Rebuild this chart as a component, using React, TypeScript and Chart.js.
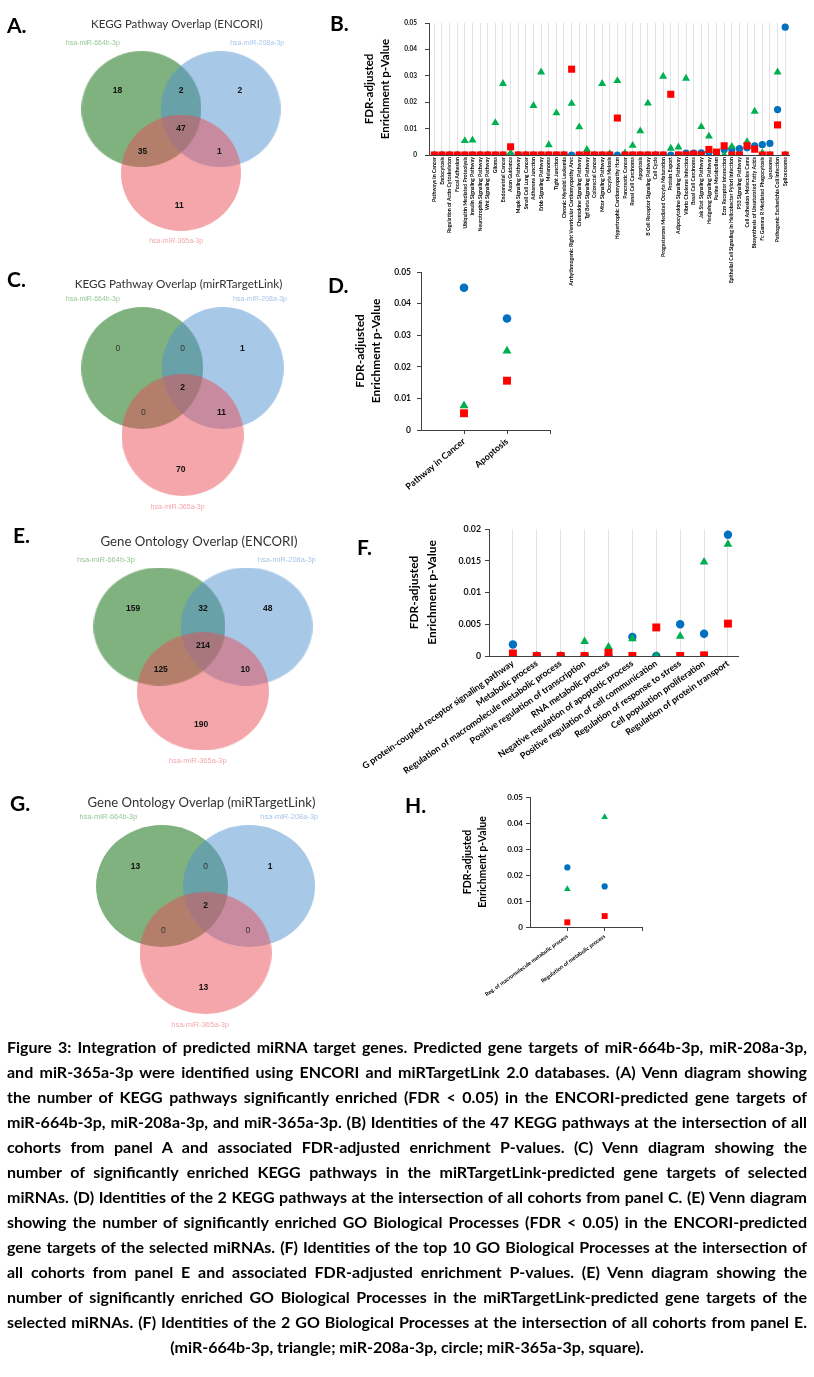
import React, { useEffect, useLayoutEffect, useRef, useState } from 'react';
import { Chart, registerables } from 'chart.js';

Chart.register(...registerables);

const SANS = 'Lato, "Open Sans", "DejaVu Sans", sans-serif';
const VENN_FONT = '"Liberation Sans", Arial, sans-serif';
const GREEN = '#00B050';
const BLUE = '#0070C0';
const RED = '#FF0000';

// ---------------- data ----------------
const mirnas = ['hsa-miR-664b-3p', 'hsa-miR-208a-3p', 'hsa-miR-365a-3p'];
// Venn regions: 664b only, 664b&208a, 208a only, all three, 664b&365a, 208a&365a, 365a only
const vennKeggEncori = [18, 2, 2, 47, 35, 1, 11];
const vennKeggMirTargetLink = [0, 0, 1, 2, 0, 11, 70];
const vennGoEncori = [159, 32, 48, 214, 125, 10, 190];
const vennGoMirTargetLink = [13, 0, 1, 2, 0, 0, 13];
const vennTitles = [
  'KEGG Pathway Overlap (ENCORI)',
  'KEGG Pathway Overlap (mirRTargetLink)',
  'Gene Ontology Overlap (ENCORI)',
  'Gene Ontology Overlap (miRTargetLink)',
];

const keggPathways = [
  'Pathways in Cancer', 'Endocytosis', 'Regulation of Actin Cytoskeleton', 'Focal Adhesion',
  'Ubiquitin Mediated Proteolysis', 'Insulin Signaling Pathway', 'Neurotrophin Signaling Pathway',
  'Wnt Signaling Pathway', 'Glioma', 'Endometrial Cancer', 'Axon Guidance', 'Mapk Signaling Pathway',
  'Small Cell Lung Cancer', 'Adherens Junction', 'Erbb Signaling Pathway', 'Melanoma', 'Tight Junction',
  'Chronic Myeloid Leukemia', 'Arrhythmogenic Right Ventricular Cardiomyopathy Arvc',
  'Chemokine Signaling Pathway', 'Tgf Beta Signaling Pathway', 'Colorectal Cancer', 'Mtor Signaling Pathway',
  'Oocyte Meiosis', 'Hypertrophic Cardiomyopathy Hcm', 'Pancreatic Cancer', 'Renal Cell Carcinoma',
  'Apoptosis', 'B Cell Receptor Signaling Pathway', 'Cell Cycle', 'Progesterone Mediated Oocyte Maturation',
  'Protein Export', 'Adipocytokine Signaling Pathway', 'Vibrio Cholerae Infection', 'Basal Cell Carcinoma',
  'Jak Stat Signaling Pathway', 'Hedgehog Signaling Pathway', 'Purine Metabolism', 'Ecm Receptor Interaction',
  'Epithelial Cell Signaling In Helicobacter Pylori Infection', 'P53 Signaling Pathway',
  'Cell Adhesion Molecules Cams', 'Biosynthesis of Unsaturated Fatty Acids', 'Fc Gamma R Mediated Phagocytosis',
  'Lysosome', 'Pathogenic Escherichia Coli Infection', 'Spliceosome',
];
const kegg664b = [
  0, 0, 0, 0, 0.0054, 0.0056, 0, 0, 0.0122, 0.027,
  0.0007, 0, 0, 0.0187, 0.0314, 0.0038, 0.0159, 0, 0.0195, 0.0106,
  0.002, 0, 0.027, 0.0004, 0.0281, 0.0007, 0.0036, 0.0091, 0.0196, 0,
  0.0298, 0.0025, 0.003, 0.029, 0, 0.0107, 0.0071, 0, 0, 0.0032,
  0, 0.005, 0.0165, 0.0008, 0, 0.0314, 0,
];
const kegg208a = [
  0, 0, 0, 0, 0, 0, 0, 0, 0, 0,
  0, 0, 0, 0, 0, 0, 0, 0, 0, 0,
  0, 0, 0, 0, 0, 0, 0, 0, 0, 0,
  0, 0, 0, 0.0007, 0.0007, 0.0008, 0.001, 0, 0.002, 0.0022,
  0.0024, 0.0027, 0.0035, 0.0039, 0.0044, 0.0172, 0.0484,
];
const kegg365a = [
  0, 0, 0, 0, 0, 0, 0, 0, 0, 0,
  0.0031, 0, 0, 0, 0, 0, 0, 0, 0.0325, 0,
  0, 0, 0, 0, 0.014, 0, 0, 0, 0, 0,
  0, 0.023, 0, 0, 0.0003, 0, 0.0021, 0.0011, 0.0035, 0,
  0, 0.0035, 0.0022, 0, 0, 0.0114, 0,
];

const keggMtlPathways = ['Pathway in Cancer', 'Apoptosis'];
const keggMtl664b = [0.0077, 0.025];
const keggMtl208a = [0.045, 0.0353];
const keggMtl365a = [0.0053, 0.0156];

const goProcesses = [
  'G protein-coupled receptor signaling pathway', 'Metabolic process',
  'Regulation of macromolecule metabolic process', 'Positive regulation of transcription',
  'RNA metabolic process', 'Negative regulation of apoptotic process',
  'Positive regulation of cell communication', 'Regulation of response to stress',
  'Cell population proliferation', 'Regulation of protein transport',
];
const go664b = [0, 0, 0, 0.0023, 0.0014, 0.0027, 0, 0.0031, 0.0148, 0.0176];
const go208a = [0.0018, 0, 0, 0, 0, 0.003, 0, 0.005, 0.0035, 0.0191];
const go365a = [0.0004, 0, 0, 0, 0.0005, 0, 0.0045, 0, 0.0001, 0.0051];

const goMtlProcesses = ['Reg. of macromolecule metabolic process', 'Regulation of metabolic process'];
const goMtl664b = [0.0146, 0.0423];
const goMtl208a = [0.0229, 0.0156];
const goMtl365a = [0.0018, 0.0042];

const yAxisTitle = ['FDR-adjusted', 'Enrichment p-Value'];

const captionLines = [
  'Figure 3: Integration of predicted miRNA target genes. Predicted gene targets of miR-664b-3p, miR-208a-3p,',
  'and miR-365a-3p were identified using ENCORI and miRTargetLink 2.0 databases. (A) Venn diagram showing',
  'the number of KEGG pathways significantly enriched (FDR < 0.05) in the ENCORI-predicted gene targets of',
  'miR-664b-3p, miR-208a-3p, and miR-365a-3p. (B) Identities of the 47 KEGG pathways at the intersection of all',
  'cohorts from panel A and associated FDR-adjusted enrichment P-values. (C) Venn diagram showing the',
  'number of significantly enriched KEGG pathways in the miRTargetLink-predicted gene targets of selected',
  'miRNAs. (D) Identities of the 2 KEGG pathways at the intersection of all cohorts from panel C. (E) Venn diagram',
  'showing the number of significantly enriched GO Biological Processes (FDR < 0.05) in the ENCORI-predicted',
  'gene targets of the selected miRNAs. (F) Identities of the top 10 GO Biological Processes at the intersection of',
  'all cohorts from panel E and associated FDR-adjusted enrichment P-values. (E) Venn diagram showing the',
  'number of significantly enriched GO Biological Processes in the miRTargetLink-predicted gene targets of the',
  'selected miRNAs. (F) Identities of the 2 GO Biological Processes at the intersection of all cohorts from panel E.',
  '(miR-664b-3p, triangle; miR-208a-3p, circle; miR-365a-3p, square).',
];

// ---------------- layout ----------------
// Venn layout in units of circle radius (y up)
const CIRCLE_POS: [number, number][] = [[-0.66, 0.55], [0.66, 0.55], [0, -0.55]];
const REGION_POS: [number, number][] = [
  [-1.06, 0.86], [0, 0.86], [0.98, 0.86], [0, 0.22], [-0.64, -0.18], [0.64, -0.18], [-0.03, -1.12],
];
const SETLABEL_POS: [number, number][] = [[-1.47, 1.68], [1.27, 1.68], [-0.08, -1.73]];
const VENN_FILL = ['rgba(0,101,0,0.5)', 'rgba(81,145,209,0.5)', 'rgba(233,77,85,0.5)'];
const VENN_LABEL = ['rgba(60,150,60,0.55)', 'rgba(90,150,210,0.55)', 'rgba(235,90,100,0.55)'];

type VennGeom = { cx: number; cy: number; rx: number; ry: number; top: number; height: number; titleW: number; labelSize: number };
const VENN_W = 340;
const vennGeoms: VennGeom[] = [
  { cx: 181, cy: 141, rx: 60, ry: 58, top: 0, height: 270, titleW: 172, labelSize: 7 },
  { cx: 182.5, cy: 401.5, rx: 61, ry: 61, top: 270, height: 250, titleW: 208, labelSize: 7 },
  { cx: 203, cy: 659, rx: 66, ry: 59, top: 520, height: 265, titleW: 197, labelSize: 7.5 },
  { cx: 205.5, cy: 919.5, rx: 66, ry: 61, top: 790, height: 250, titleW: 228, labelSize: 7.5 },
];
const vennCounts = [vennKeggEncori, vennKeggMirTargetLink, vennGoEncori, vennGoMirTargetLink];

function ellipseSprite(rx: number, ry: number, color: string) {
  const c = document.createElement('canvas');
  c.width = Math.round(rx * 2);
  c.height = Math.round(ry * 2);
  const g = c.getContext('2d')!;
  g.fillStyle = color;
  g.beginPath();
  g.ellipse(c.width / 2, c.height / 2, rx, ry, 0, 0, Math.PI * 2);
  g.fill();
  return c;
}

function fixedScale(min: number, max: number): any {
  return {
    type: 'linear',
    display: false,
    bounds: 'data',
    min,
    max,
    afterBuildTicks: (s: any) => {
      s.min = min;
      s.max = max;
      s.ticks = [{ value: min }, { value: max }];
    },
  };
}

function vennConfig(i: number): any {
  const geo = vennGeoms[i];
  const counts = vennCounts[i];
  const title = vennTitles[i];
  const xmin = -geo.cx / geo.rx;
  const xmax = (VENN_W - geo.cx) / geo.rx;
  const ymax = (geo.cy - geo.top) / geo.ry;
  const ymin = -(geo.top + geo.height - geo.cy) / geo.ry;
  const order = [2, 1, 0]; // red on top, then blue, then green
  const textPlugin = {
    id: 'vennText' + i,
    afterDatasetsDraw(chart: any) {
      const { ctx, scales } = chart;
      const px = (u: number) => scales.x.getPixelForValue(u);
      const py = (v: number) => scales.y.getPixelForValue(v);
      ctx.save();
      ctx.textAlign = 'center';
      ctx.textBaseline = 'middle';
      counts.forEach((n, k) => {
        ctx.font = `${n === 0 ? 'normal' : 'bold'} 8.5px ${VENN_FONT}`;
        ctx.fillStyle = n === 0 ? '#333' : '#111';
        ctx.fillText(String(n), px(REGION_POS[k][0]), py(REGION_POS[k][1]));
      });
      ctx.font = `${geo.labelSize}px ${VENN_FONT}`;
      mirnas.forEach((m, k) => {
        ctx.fillStyle = VENN_LABEL[k];
        ctx.fillText(m, px(SETLABEL_POS[k][0]), py(SETLABEL_POS[k][1]));
      });
      ctx.font = `12px ${SANS}`;
      const w = ctx.measureText(title).width;
      const size = (12 * geo.titleW) / w;
      ctx.font = `${size}px ${SANS}`;
      ctx.fillStyle = '#333';
      ctx.fillText(title, px(0) - 4, py(0) - 117);
      ctx.restore();
    },
  };
  return {
    type: 'scatter',
    data: {
      datasets: order.map((k) => ({
        label: mirnas[k],
        data: [{ x: CIRCLE_POS[k][0], y: CIRCLE_POS[k][1] }],
        pointStyle: ellipseSprite(geo.rx, geo.ry, VENN_FILL[k]),
        pointRadius: 1,
        pointBorderWidth: 0,
        clip: false,
      })),
    },
    options: {
      animation: false,
      responsive: false,
      events: [],
      layout: { padding: 0, autoPadding: false },
      plugins: { legend: { display: false }, tooltip: { enabled: false }, title: { display: false } },
      scales: {
        x: fixedScale(xmin, xmax),
        y: fixedScale(ymin, ymax),
      },
    },
    plugins: [textPlugin],
  };
}

const fmt = (v: any) => {
  const n = Number(v);
  return n === 0 ? '0' : String(parseFloat(n.toFixed(4)));
};

function dotConfig(g: any, cats: string[], s664: number[], s208: number[], s365: number[]): any {
  const mk = (vals: number[]) => vals.map((v, i) => ({ x: i + 1, y: v }));
  const titleCenter = g.left + (g.titleSize * g.titleLH) / 2;
  return {
    type: 'scatter',
    data: {
      datasets: [
        { label: 'miR-365a-3p', data: mk(s365), pointStyle: 'rect', pointRadius: g.rRect, backgroundColor: RED, borderColor: RED, borderWidth: 0 },
        { label: 'miR-664b-3p', data: mk(s664), pointStyle: 'triangle', pointRadius: g.rTri, backgroundColor: GREEN, borderColor: GREEN, borderWidth: 0 },
        { label: 'miR-208a-3p', data: mk(s208), pointStyle: 'circle', pointRadius: g.rCircle, backgroundColor: BLUE, borderColor: BLUE, borderWidth: 0 },
      ],
    },
    options: {
      animation: false,
      responsive: false,
      events: [],
      layout: { padding: { left: 0, bottom: 0, top: g.T - g.top, right: g.left + g.width - g.R }, autoPadding: false },
      plugins: { legend: { display: false }, tooltip: { enabled: false } },
      scales: {
        x: {
          type: 'linear',
          bounds: 'data',
          min: g.xmin,
          max: g.xmax,
          afterBuildTicks: (axis: any) => {
            axis.min = g.xmin;
            axis.max = g.xmax;
            axis.ticks = Array.from({ length: g.nTicks }, (_, i) => ({ value: i + 1 }));
          },
          afterFit: (s: any) => {
            s.height = g.top + g.height - g.B;
            s.paddingLeft = 0;
            s.paddingRight = 0;
          },
          ticks: {
            autoSkip: false,
            minRotation: g.rot,
            maxRotation: g.rot,
            padding: g.xPad,
            color: '#000',
            font: { family: SANS, size: g.xFont, weight: 'bold' },
            callback: (v: any) => cats[Number(v) - 1] ?? '',
          },
          grid: g.xGrid
            ? { display: true, drawOnChartArea: true, drawTicks: false, color: '#e3e3e3', lineWidth: 1 }
            : { display: true, drawOnChartArea: false, drawTicks: true, tickLength: 4, color: '#404040' },
          border: { display: true, color: '#404040', width: 1 },
        },
        y: {
          min: 0,
          max: g.ymax,
          afterFit: (s: any) => {
            s.width = g.L - g.left;
            s.paddingTop = 0;
            s.paddingBottom = 0;
          },
          ticks: {
            stepSize: g.step,
            padding: g.yPad,
            color: '#111',
            font: { family: SANS, size: g.yFont, weight: 'bold' },
            callback: fmt,
          },
          grid: { display: true, drawOnChartArea: false, drawTicks: true, tickLength: 4, color: '#404040' },
          border: { display: true, color: '#404040', width: 1 },
          title: {
            display: true,
            text: yAxisTitle,
            color: '#000',
            font: { family: SANS, size: g.titleSize, weight: 'bold', lineHeight: g.titleLH },
            padding: { top: Math.max(0, g.titleX - titleCenter), bottom: 0 },
          },
        },
      },
    },
  };
}

const geoB = {
  left: 355, top: 8, width: 455, height: 335, L: 429, T: 23, R: 789, B: 155,
  xmin: 0.3, xmax: 47.5, nTicks: 47, ymax: 0.05, step: 0.01,
  rot: 90, xFont: 5.2, yFont: 6.5, titleSize: 11.5, titleLH: 1.4, titleX: 369,
  xGrid: true, yPad: 8, xPad: 2, rCircle: 3.6, rRect: 5, rTri: 4.6,
};
const geoD = {
  left: 340, top: 255, width: 220, height: 245, L: 421, T: 272, R: 550, B: 430,
  xmin: 0, xmax: 3, nTicks: 3, ymax: 0.05, step: 0.01,
  rot: 40, xFont: 9, yFont: 8.5, titleSize: 12, titleLH: 1.33, titleX: 360,
  xGrid: false, yPad: 6, xPad: 2, rCircle: 4.3, rRect: 5.6, rTri: 5.2,
};
const geoF = {
  left: 330, top: 515, width: 480, height: 330, L: 489, T: 529, R: 738, B: 656,
  xmin: 0, xmax: 10.42, nTicks: 10, ymax: 0.02, step: 0.005,
  rot: 35, xFont: 9, yFont: 8.8, titleSize: 12, titleLH: 1.5, titleX: 414,
  xGrid: true, yPad: 4, xPad: 2, rCircle: 4.2, rRect: 5.6, rTri: 5,
};
const geoH = {
  left: 450, top: 785, width: 200, height: 250, L: 530, T: 797, R: 642, B: 927,
  xmin: 0, xmax: 3, nTicks: 3, ymax: 0.05, step: 0.01,
  rot: 36, xFont: 5.5, yFont: 8, titleSize: 10.5, titleLH: 1.43, titleX: 468,
  xGrid: false, yPad: 3, xPad: 2, rCircle: 3.1, rRect: 4.2, rTri: 3.8,
};

const panelLetters = [
  { t: 'A.', x: 7, y: 24.5 },
  { t: 'B.', x: 330, y: 22.5 },
  { t: 'C.', x: 7, y: 278.5 },
  { t: 'D.', x: 328, y: 285 },
  { t: 'E.', x: 13, y: 535 },
  { t: 'F.', x: 357, y: 547 },
  { t: 'G.', x: 10, y: 803 },
  { t: 'H.', x: 405, y: 805 },
];

function ChartCanvas({ left, top, width, height, make }: { left: number; top: number; width: number; height: number; make: () => any }) {
  const ref = useRef<HTMLCanvasElement>(null);
  useEffect(() => {
    const chart = new Chart(ref.current as HTMLCanvasElement, make());
    return () => chart.destroy();
  }, []);
  return (
    <canvas
      ref={ref}
      width={width}
      height={height}
      style={{ position: 'absolute', left, top, width, height }}
    />
  );
}

const CAPTION_W = 800;

export default function App() {
  const last = captionLines.length - 1;
  const [capSize, setCapSize] = useState(14);
  useLayoutEffect(() => {
    const ctx = document.createElement('canvas').getContext('2d');
    if (!ctx) return;
    ctx.font = `bold 14px ${SANS}`;
    const maxW = Math.max(...captionLines.slice(0, last).map((l) => ctx.measureText(l).width));
    if (maxW > 0) setCapSize(Math.min(16, (14 * (CAPTION_W - 6)) / maxW));
  }, []);
  return (
    <div style={{ position: 'absolute', left: 0, top: 0, width: 814, height: 1377, background: '#fff', overflow: 'hidden' }}>
      {vennGeoms.map((g, i) => (
        <ChartCanvas key={'v' + i} left={0} top={g.top} width={VENN_W} height={g.height} make={() => vennConfig(i)} />
      ))}
      <ChartCanvas left={geoB.left} top={geoB.top} width={geoB.width} height={geoB.height}
        make={() => dotConfig(geoB, keggPathways, kegg664b, kegg208a, kegg365a)} />
      <ChartCanvas left={geoD.left} top={geoD.top} width={geoD.width} height={geoD.height}
        make={() => dotConfig(geoD, keggMtlPathways, keggMtl664b, keggMtl208a, keggMtl365a)} />
      <ChartCanvas left={geoF.left} top={geoF.top} width={geoF.width} height={geoF.height}
        make={() => dotConfig(geoF, goProcesses, go664b, go208a, go365a)} />
      <ChartCanvas left={geoH.left} top={geoH.top} width={geoH.width} height={geoH.height}
        make={() => dotConfig(geoH, goMtlProcesses, goMtl664b, goMtl208a, goMtl365a)} />
      {panelLetters.map((p) => (
        <div key={p.t} style={{ position: 'absolute', left: p.x, top: p.y - 11, fontFamily: SANS, fontWeight: 'bold', fontSize: 21, lineHeight: '21px', color: '#000' }}>
          {p.t}
        </div>
      ))}
      <div style={{ position: 'absolute', left: 7, top: 1034, width: CAPTION_W, fontFamily: SANS, fontWeight: 'bold', fontSize: capSize, lineHeight: '25px', color: '#000' }}>
        {captionLines.map((l, i) => (
          <div key={i} style={{ height: 25, textAlign: i === last ? 'center' : 'justify', textAlignLast: i === last ? 'center' : 'justify', whiteSpace: 'nowrap' } as any}>
            {l}
          </div>
        ))}
      </div>
    </div>
  );
}
